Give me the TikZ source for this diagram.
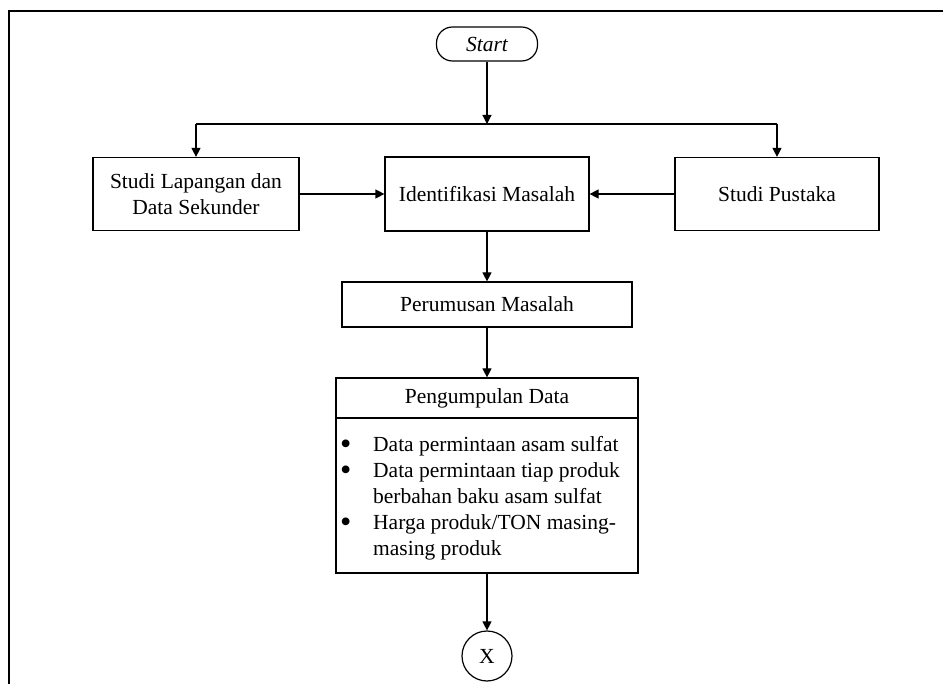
\documentclass[tikz,border=0pt]{standalone}
\usepackage{fontspec}
\usepackage{graphicx}
\setmainfont{Liberation Serif}
\usetikzlibrary{arrows.meta}
\newcommand{\mybul}{\makebox[33pt][l]{\raisebox{-3pt}{\scalebox{1.5}{\textbullet}}}}
\begin{document}
\begin{tikzpicture}[x=1pt,y=-1pt,
  every node/.style={font=\fontsize{21.5}{26}\selectfont},
  boxnode/.style={draw, line width=1.2pt, rectangle, inner sep=0pt, align=center},
  termnode/.style={draw, line width=1.2pt, rectangle, rounded corners=16pt, inner sep=0pt},
  connode/.style={draw, line width=1.2pt, circle, inner sep=0pt, minimum size=50pt},
  conn/.style={line width=1.2pt},
  arr/.style={line width=1.2pt, -{Triangle[length=9pt,width=9pt]}},
  frameline/.style={line width=2.6pt}
]
\useasboundingbox (0,0) rectangle (943,684);
% outer frame (top and left only)
\coordinate (fbl) at (9,690);
\coordinate (ftl) at (9,11);
\coordinate (ftr) at (950,11);
\draw[frameline] (fbl) -- (ftl) -- (ftr);

% nodes
\node[termnode, minimum width=101pt, minimum height=34pt] (S) at (487,44) {\itshape Start};
\node[boxnode, minimum width=206pt, minimum height=73pt] (L) at (196,194) {Studi Lapangan dan\\Data Sekunder};
\node[boxnode, minimum width=204pt, minimum height=74pt] (M) at (487,194) {Identifikasi Masalah};
\node[boxnode, minimum width=204pt, minimum height=73pt] (R) at (777,194) {Studi Pustaka};
\node[boxnode, minimum width=290pt, minimum height=45pt] (P) at (487,304.5) {Perumusan Masalah};
\node[boxnode, minimum width=302pt, minimum height=40pt] (Dh) at (487,398) {Pengumpulan Data};
\node[boxnode, minimum width=302pt, minimum height=155pt] (Db) at (487,495.5) {};
\node[anchor=base west, inner sep=0pt] (list) at (340,452) {%
  \begin{tabular}[t]{@{}l@{}l@{}}
  \mybul & Data permintaan asam sulfat\\
  \mybul & Data permintaan tiap produk\\
  & berbahan baku asam sulfat\\
  \mybul & Harga produk/TON masing-\\
  & masing produk
  \end{tabular}};
\node[connode] (X) at (487,656) {X};

% branch coordinates
\coordinate (barC) at (487,124);
\coordinate (barL) at (196,124);
\coordinate (barR) at (777,124);

% connectors
\draw[arr] (S.south) -- (barC);
\draw[conn] (barL) -- (barR);
\draw[arr] (barL) -- (L.north);
\draw[arr] (barR) -- (R.north);
\draw[arr] (L.east) -- (M.west);
\draw[arr] (R.west) -- (M.east);
\draw[arr] (M.south) -- (P.north);
\draw[arr] (P.south) -- (Dh.north);
\draw[arr] (Db.south) -- (X.north);
\end{tikzpicture}
\end{document}
